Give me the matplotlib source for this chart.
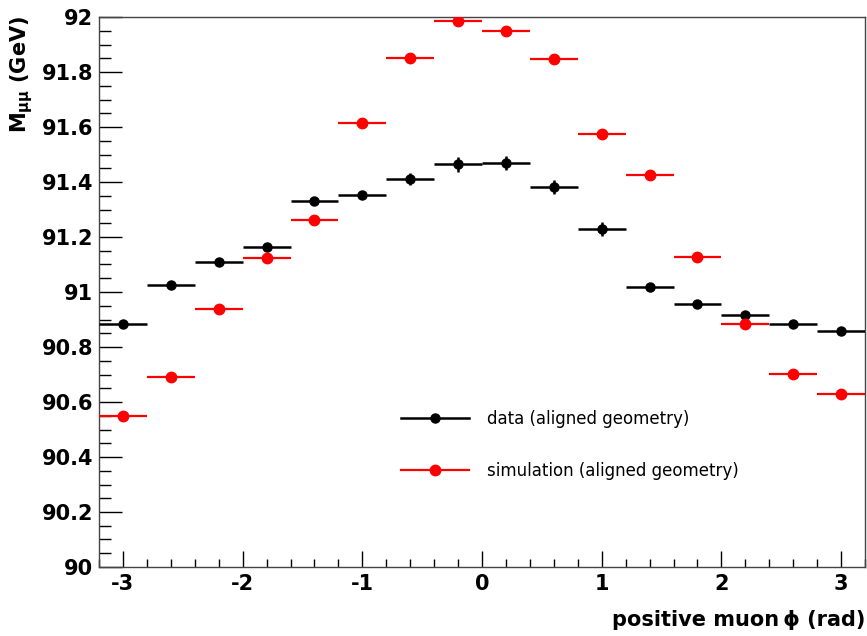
import numpy as np
import matplotlib
matplotlib.use("Agg")
import matplotlib.pyplot as plt
from matplotlib.ticker import MultipleLocator, FuncFormatter
from matplotlib.lines import Line2D

# bin centres in phi (16 bins of width 0.4 from -3.2 to 3.2)
phi = [-3.0, -2.6, -2.2, -1.8, -1.4, -1.0, -0.6, -0.2,
       0.2, 0.6, 1.0, 1.4, 1.8, 2.2, 2.6, 3.0]
half_bin = 0.2

# mean dimuon mass per bin (GeV)
data_mass = [90.883, 91.025, 91.108, 91.163, 91.331, 91.354, 91.411, 91.464,
             91.468, 91.382, 91.228, 91.018, 90.956, 90.915, 90.885, 90.858]
data_err = [0.010, 0.010, 0.010, 0.012, 0.012, 0.012, 0.022, 0.028,
            0.025, 0.027, 0.025, 0.012, 0.012, 0.010, 0.010, 0.010]

sim_mass = [90.549, 90.690, 90.938, 91.122, 91.263, 91.616, 91.852, 91.984,
            91.948, 91.848, 91.573, 91.425, 91.127, 90.883, 90.702, 90.628]
sim_err = [0.008] * len(phi)

plt.rcParams['font.family'] = ['DejaVu Sans']

fig = plt.figure(figsize=(8.67, 6.36), dpi=100)
ax = fig.add_axes([99 / 867, 1 - 567 / 636, 766 / 867, 550 / 636])

ax.errorbar(phi, data_mass, xerr=half_bin, yerr=data_err, fmt='o',
            color='black', ms=6.5, elinewidth=1.8, capsize=0, zorder=3)
ax.errorbar(phi, sim_mass, xerr=half_bin, yerr=sim_err, fmt='o',
            color='#ff0000', ms=7.5, elinewidth=1.6, capsize=0, zorder=4)

ax.set_xlim(-3.2, 3.2)
ax.set_ylim(90, 92)

ax.xaxis.set_major_locator(MultipleLocator(1))
ax.xaxis.set_minor_locator(MultipleLocator(0.2))
ax.yaxis.set_major_locator(MultipleLocator(0.2))
ax.yaxis.set_minor_locator(MultipleLocator(0.05))
ax.yaxis.set_major_formatter(FuncFormatter(lambda v, p: '%g' % round(v, 2)))
ax.xaxis.set_major_formatter(FuncFormatter(lambda v, p: '%g' % round(v, 2)))

ax.tick_params(axis='both', which='both', direction='in', top=False, right=False,
               width=1, labelsize=15)
ax.tick_params(axis='y', which='major', length=16.8, pad=4)
ax.tick_params(axis='y', which='minor', length=8.6)
ax.tick_params(axis='x', which='major', length=11.5, pad=5)
ax.tick_params(axis='x', which='minor', length=5.8)
for lab in ax.get_xticklabels() + ax.get_yticklabels():
    lab.set_fontweight('bold')

for sp in ax.spines.values():
    sp.set_color('#444444')
    sp.set_linewidth(1)

# axis titles, ROOT style: right/top aligned
fig.text(865 / 867, 1 - 620 / 636, 'positive muon\u2009\u03d5 (rad)',
         ha='right', va='center', fontsize=15, fontweight='bold')
fig.text(22 / 867, 1 - 16 / 636, 'M$_{\\mathregular{\u03bc\u03bc}}$ (GeV)',
         rotation=90, ha='center', va='top', fontsize=15, fontweight='bold')

handles = [
    Line2D([], [], color='black', marker='o', ms=6.5, lw=1.8),
    Line2D([], [], color='#ff0000', marker='o', ms=7.5, lw=1.6),
]
ax.legend(handles, ['data (aligned geometry)', 'simulation (aligned geometry)'],
          loc='upper left', bbox_to_anchor=(0.394, 0.285), frameon=False,
          borderpad=0, borderaxespad=0, numpoints=1, fontsize=12,
          handlelength=4.1, handletextpad=1.1, labelspacing=2.0)

fig.savefig('out.png', dpi=100)
